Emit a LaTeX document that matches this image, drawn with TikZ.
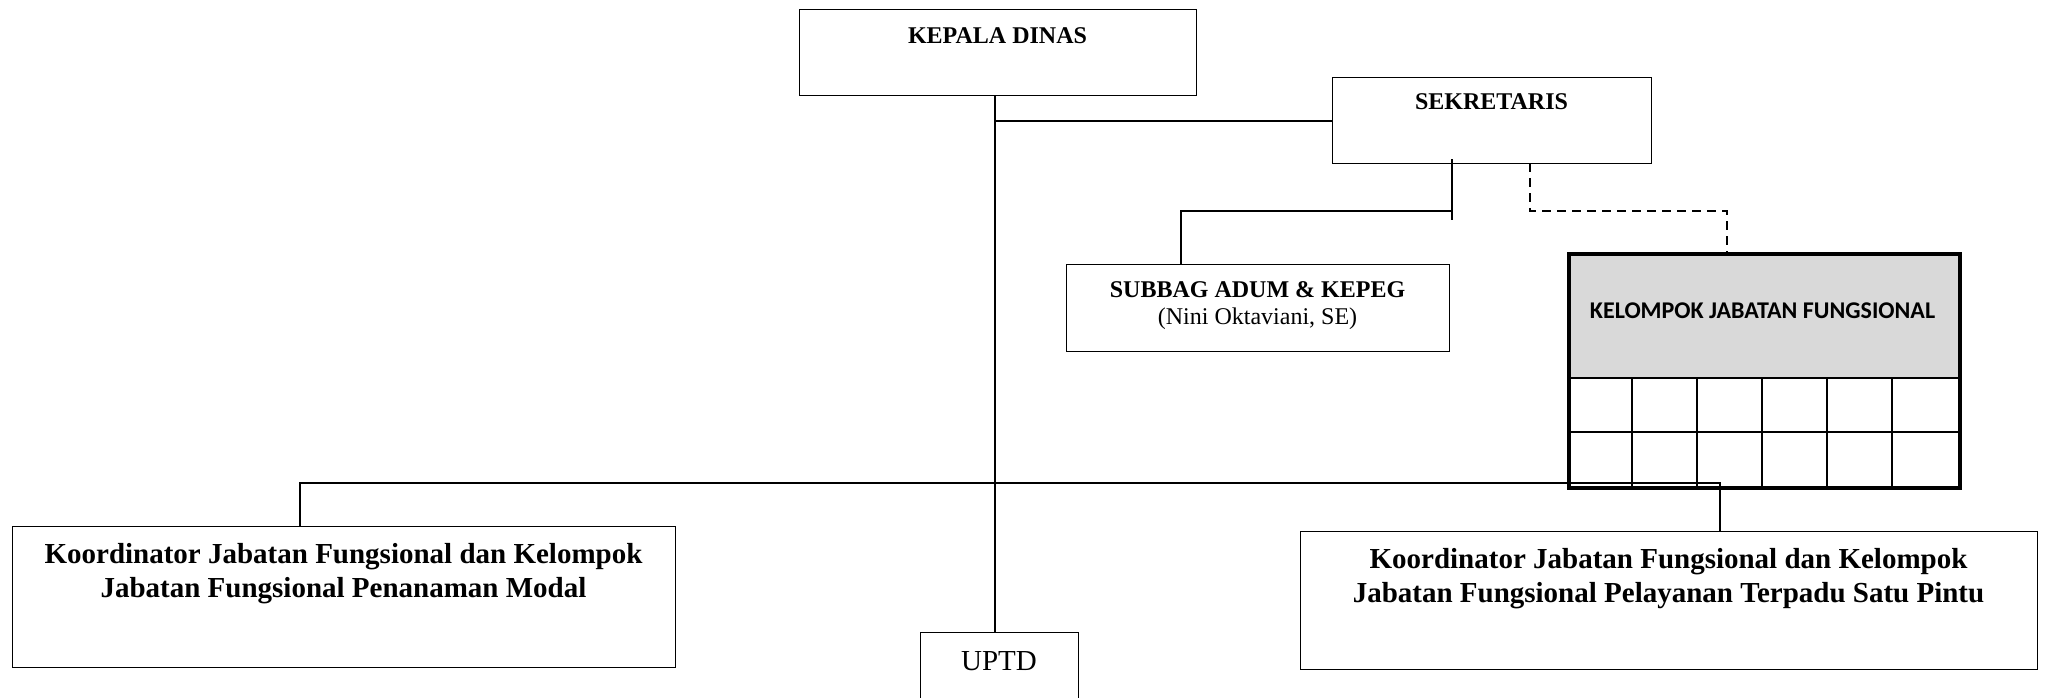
\documentclass[tikz,border=0pt]{standalone}
\usepackage{fontspec}
\setmainfont{Liberation Serif}
\newfontfamily\calibri{Carlito}
\usetikzlibrary{calc}
\definecolor{hdrgray}{HTML}{D9D9D9}
\begin{document}
\begin{tikzpicture}[x=1pt,y=-1pt,
  box/.style={draw, line width=1.4pt, inner sep=0pt, anchor=north west},
  conn/.style={line width=2pt},
  dconn/.style={line width=2pt, dash pattern=on 9pt off 6pt},
  txtb/.style={font=\fontsize{24}{28}\selectfont\bfseries, anchor=base, inner sep=0pt},
  txtr/.style={font=\fontsize{24}{28}\selectfont, anchor=base, inner sep=0pt},
  txtbig/.style={font=\fontsize{29}{34}\selectfont\bfseries, anchor=base, inner sep=0pt},
  txtbigr/.style={font=\fontsize{29}{34}\selectfont, anchor=base, inner sep=0pt},
  txtcal/.style={font=\fontsize{24}{28}\calibri\bfseries, anchor=base, inner sep=0pt},
  grid/.style={line width=2pt}
  ]
\useasboundingbox (0,0) rectangle (2047,697);

% boxes
\node[box, minimum width=397pt, minimum height=86pt] (kd) at (799,9) {};
\node[txtb] (kdt) at (997.5,43) {KEPALA DINAS};

\node[box, minimum width=319pt, minimum height=86pt] (sek) at (1332,77) {};
\node[txtb] (sekt) at (1491.5,109) {SEKRETARIS};

\node[box, minimum width=383pt, minimum height=87pt] (sub) at (1066,264) {};
\node[txtb] (subt) at (1257.5,297) {SUBBAG ADUM \& KEPEG};
\node[txtr] (subn) at (1257.5,324) {(Nini Oktaviani, SE)};

% kelompok jabatan fungsional
\node[box, draw=none, fill=hdrgray, minimum width=391pt, minimum height=126pt] (kjfh) at (1567,252) {};
\node[txtcal] (kjft) at (1762.5,318) {KELOMPOK JABATAN FUNGSIONAL};
\draw[grid] (1567,378) -- (1958,378);
\draw[grid] (1567,432) -- (1958,432);
\foreach \cx in {1632,1697,1762,1827,1892} {
  \draw[grid] (\cx,378) -- (\cx,486);
}
\node[box, line width=3.5pt, minimum width=391pt, minimum height=234pt] (kjf) at (1567,252) {};

\node[box, minimum width=663pt, minimum height=141pt] (left) at (12,526) {};
\node[txtbig] (leftt1) at (343.5,563) {Koordinator Jabatan Fungsional dan Kelompok};
\node[txtbig] (leftt2) at (343.5,597) {Jabatan Fungsional Penanaman Modal};

\node[box, minimum width=737pt, minimum height=138pt] (right) at (1300,531) {};
\node[txtbig] (rightt1) at (1668.5,568) {Koordinator Jabatan Fungsional dan Kelompok};
\node[txtbig] (rightt2) at (1668.5,602) {Jabatan Fungsional Pelayanan Terpadu Satu Pintu};

\node[box, minimum width=158pt, minimum height=100pt] (uptd) at (920,632) {};
\node[txtbigr] (uptdt) at (999,670) {UPTD};

% connectors
\coordinate (mv) at (995,95);
\draw[conn] (mv) -- (mv |- uptd.north);
\draw[conn] (sek.west) -- (sek.west -| mv);

\coordinate (s1) at (1452,159);
\coordinate (s2) at (1452,220);
\coordinate (sj) at (1452,211);
\coordinate (sl) at (1181,211);
\draw[conn] (s1) -- (s2);
\draw[conn] (sj) -- (sl) -- (sl |- sub.north);

\coordinate (d1) at (1530,163);
\coordinate (d2) at (1530,211);
\coordinate (d3) at (1727,211);
\draw[dconn] (d1) -- (d2) -- (d3) -- (d3 |- kjf.north);

\coordinate (hl) at (300,483);
\coordinate (hr) at (1720,483);
\draw[conn] (hl |- left.north) -- (hl) -- (hr) -- (hr |- right.north);
\end{tikzpicture}
\end{document}
